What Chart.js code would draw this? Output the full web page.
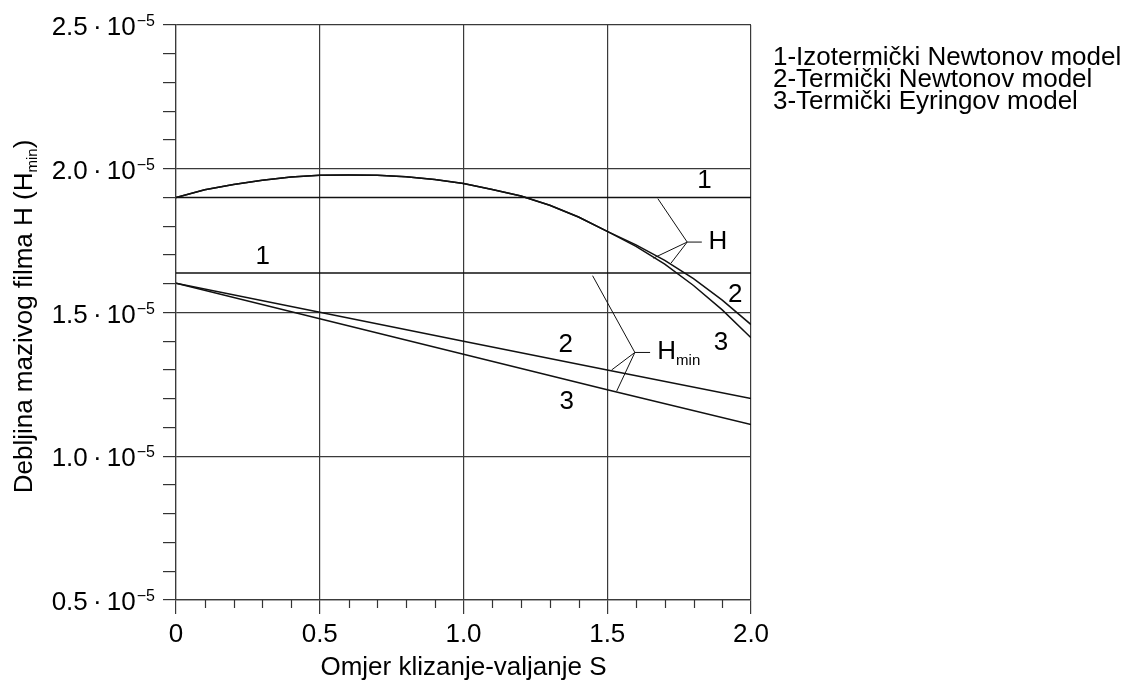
<!DOCTYPE html>
<html>
<head>
<meta charset="utf-8">
<script src="https://cdn.jsdelivr.net/npm/chart.js@4.4.1/dist/chart.umd.min.js"></script>
<style>
  html, body { margin: 0; padding: 0; background: #fff; }
  #wrap { width: 1130px; height: 683px; }
</style>
</head>
<body>
<div id="wrap"><canvas id="chart" width="1130" height="683"></canvas></div>
<script>
// values of H are in units of 10^-5
const sSteps = [0, 0.1, 0.2, 0.3, 0.4, 0.5, 0.6, 0.7, 0.8, 0.9, 1.0, 1.1, 1.2, 1.3, 1.4, 1.5, 1.6, 1.7, 1.8, 1.9, 2.0];
const hThermNewton = [1.900, 1.927, 1.945, 1.960, 1.971, 1.977, 1.978, 1.977, 1.972, 1.963, 1.949, 1.928, 1.905, 1.873, 1.832, 1.782, 1.735, 1.681, 1.618, 1.543, 1.458];
const hThermEyring = [1.900, 1.927, 1.945, 1.960, 1.971, 1.977, 1.978, 1.977, 1.972, 1.963, 1.949, 1.928, 1.905, 1.873, 1.832, 1.782, 1.730, 1.668, 1.594, 1.509, 1.412];

const sLinear = [0, 0.5, 1.0, 1.5, 2.0];
const hminThermNewton = [1.602, 1.501, 1.400, 1.300, 1.201];
const hminThermEyring = [1.602, 1.478, 1.355, 1.231, 1.110];

const sEnds = [0, 2.0];
const hIsoNewton = [1.900, 1.900];
const hminIsoNewton = [1.637, 1.637];

// leader lines for the "H" and "Hmin" callouts
const hLeaderAx = [1.676, 1.778, 1.829];
const hLeaderAy = [1.896, 1.745, 1.745];
const hLeaderBx = [1.660, 1.778, 1.722];
const hLeaderBy = [1.689, 1.745, 1.672];
const hminLeaderAx = [1.449, 1.596, 1.649];
const hminLeaderAy = [1.628, 1.361, 1.361];
const hminLeaderBx = [1.515, 1.596, 1.533];
const hminLeaderBy = [1.300, 1.361, 1.227];

// curve numbers written on the plot
const curveLabels = ['1', '1', '2', '3', '2', '3'];
const curveLabelX = [0.302, 1.838, 1.945, 1.896, 1.356, 1.359];
const curveLabelY = [1.695, 1.957, 1.561, 1.395, 1.387, 1.189];

const xTickLabels = ['0', '0.5', '1.0', '1.5', '2.0'];
const yTickValues = [0.5, 1.0, 1.5, 2.0, 2.5];
const legendLines = ['1-Izotermički Newtonov model', '2-Termički Newtonov model', '3-Termički Eyringov model'];

const FONT = "'Liberation Sans', Arial, sans-serif";
const GRID = '#3a3a3a';

function pts(xs, ys) {
    return xs.map((x, i) => ({ x: x, y: ys[i] }));
}
function isMajor(v) {
    return Math.abs(v * 2 - Math.round(v * 2)) < 1e-6;
}
function line(data, width) {
    return { data: data, borderColor: '#111', borderWidth: width, showLine: true, pointRadius: 0, tension: 0, fill: false };
}

const textPlugin = {
    id: 'textPlugin',
    afterDraw(chart) {
        const ctx = chart.ctx;
        const x = chart.scales.x, y = chart.scales.y;
        const area = chart.chartArea;
        ctx.save();
        ctx.fillStyle = '#000';

        // short minor ticks on the x axis
        ctx.strokeStyle = '#333';
        ctx.lineWidth = 1.2;
        x.ticks.forEach(t => {
            if (isMajor(t.value)) return;
            const px = Math.round(x.getPixelForValue(t.value)) + 0.5;
            ctx.beginPath();
            ctx.moveTo(px, area.bottom);
            ctx.lineTo(px, area.bottom + 8);
            ctx.stroke();
        });

        // y tick labels  a·10^-5
        const right = area.left - 13 - 8;
        yTickValues.forEach(v => {
            const py = y.getPixelForValue(v);
            ctx.textBaseline = 'alphabetic';
            ctx.font = '16px ' + FONT;
            const sup = '\u22125';
            const supW = ctx.measureText(sup).width;
            ctx.textAlign = 'left';
            ctx.fillText(sup, right - supW, py + 1);
            ctx.font = '26px ' + FONT;
            ctx.textAlign = 'right';
            ctx.fillText(v.toFixed(1) + '\u2009\u00b7\u200910', right - supW - 1, py + 10);
        });

        // y axis title with subscript
        ctx.save();
        const cy = (area.top + area.bottom) / 2 + 4;
        ctx.translate(32, cy);
        ctx.rotate(-Math.PI / 2);
        const mainTxt = 'Debljina mazivog filma H (H';
        ctx.font = '26px ' + FONT;
        const w1 = ctx.measureText(mainTxt).width;
        const w3 = ctx.measureText(')').width;
        ctx.font = '15px ' + FONT;
        const w2 = ctx.measureText('min').width;
        let sx = -(w1 + w2 + w3) / 2;
        ctx.textAlign = 'left';
        ctx.textBaseline = 'alphabetic';
        ctx.font = '26px ' + FONT;
        ctx.fillText(mainTxt, sx, 0);
        ctx.font = '15px ' + FONT;
        ctx.fillText('min', sx + w1, 5);
        ctx.font = '26px ' + FONT;
        ctx.fillText(')', sx + w1 + w2, 0);
        ctx.restore();

        // curve numbers
        ctx.font = '26px ' + FONT;
        ctx.textAlign = 'center';
        ctx.textBaseline = 'middle';
        curveLabels.forEach((t, i) => {
            ctx.fillText(t, x.getPixelForValue(curveLabelX[i]), y.getPixelForValue(curveLabelY[i]));
        });

        // callout names
        ctx.textAlign = 'left';
        ctx.fillText('H', x.getPixelForValue(1.852), y.getPixelForValue(1.747));
        const hx = x.getPixelForValue(1.674), hy = y.getPixelForValue(1.362);
        ctx.fillText('H', hx, hy);
        const hw = ctx.measureText('H').width;
        ctx.font = '15px ' + FONT;
        ctx.fillText('min', hx + hw, hy + 9);

        // legend text
        ctx.font = '26px ' + FONT;
        ctx.textBaseline = 'alphabetic';
        legendLines.forEach((t, i) => {
            ctx.fillText(t, area.right + 22, area.top + 40 + i * 22);
        });
        ctx.restore();
    }
};

new Chart(document.getElementById('chart'), {
    type: 'scatter',
    data: {
        datasets: [
            line(pts(sEnds, hIsoNewton), 1.5),
            line(pts(sEnds, hminIsoNewton), 1.5),
            line(pts(sSteps, hThermNewton), 1.5),
            line(pts(sSteps, hThermEyring), 1.5),
            line(pts(sLinear, hminThermNewton), 1.5),
            line(pts(sLinear, hminThermEyring), 1.5),
            line(pts(hLeaderAx, hLeaderAy), 1),
            line(pts(hLeaderBx, hLeaderBy), 1),
            line(pts(hminLeaderAx, hminLeaderAy), 1),
            line(pts(hminLeaderBx, hminLeaderBy), 1)
        ]
    },
    options: {
        responsive: false,
        animation: false,
        devicePixelRatio: 1,
        layout: { padding: { left: 0, right: 379, top: 25, bottom: 0 } },
        plugins: { legend: { display: false }, tooltip: { enabled: false } },
        scales: {
            x: {
                type: 'linear',
                min: 0, max: 2.0,
                afterFit: s => { s.height = 83; },
                ticks: {
                    stepSize: 0.1,
                    autoSkip: false,
                    maxRotation: 0,
                    padding: 5,
                    color: '#000',
                    font: { size: 26, family: FONT },
                    callback: v => isMajor(v) ? xTickLabels[Math.round(v * 2)] : ''
                },
                grid: {
                    color: c => isMajor(c.tick.value) ? GRID : 'rgba(0,0,0,0)',
                    tickColor: c => isMajor(c.tick.value) ? GRID : 'rgba(0,0,0,0)',
                    lineWidth: 1.2,
                    tickLength: 14
                },
                border: { color: GRID, width: 1.2 },
                title: {
                    display: true,
                    text: 'Omjer klizanje-valjanje S',
                    color: '#000',
                    font: { size: 26, family: FONT },
                    padding: { top: 0, bottom: 0 }
                }
            },
            y: {
                type: 'linear',
                min: 0.5, max: 2.5,
                afterFit: s => { s.width = 176; },
                ticks: { stepSize: 0.1, display: false, autoSkip: false },
                grid: {
                    color: c => isMajor(c.tick.value) ? GRID : 'rgba(0,0,0,0)',
                    tickColor: '#333',
                    lineWidth: 1.2,
                    tickLength: 13
                },
                border: { color: GRID, width: 1.2 }
            }
        }
    },
    plugins: [textPlugin]
});
</script>
</body>
</html>
